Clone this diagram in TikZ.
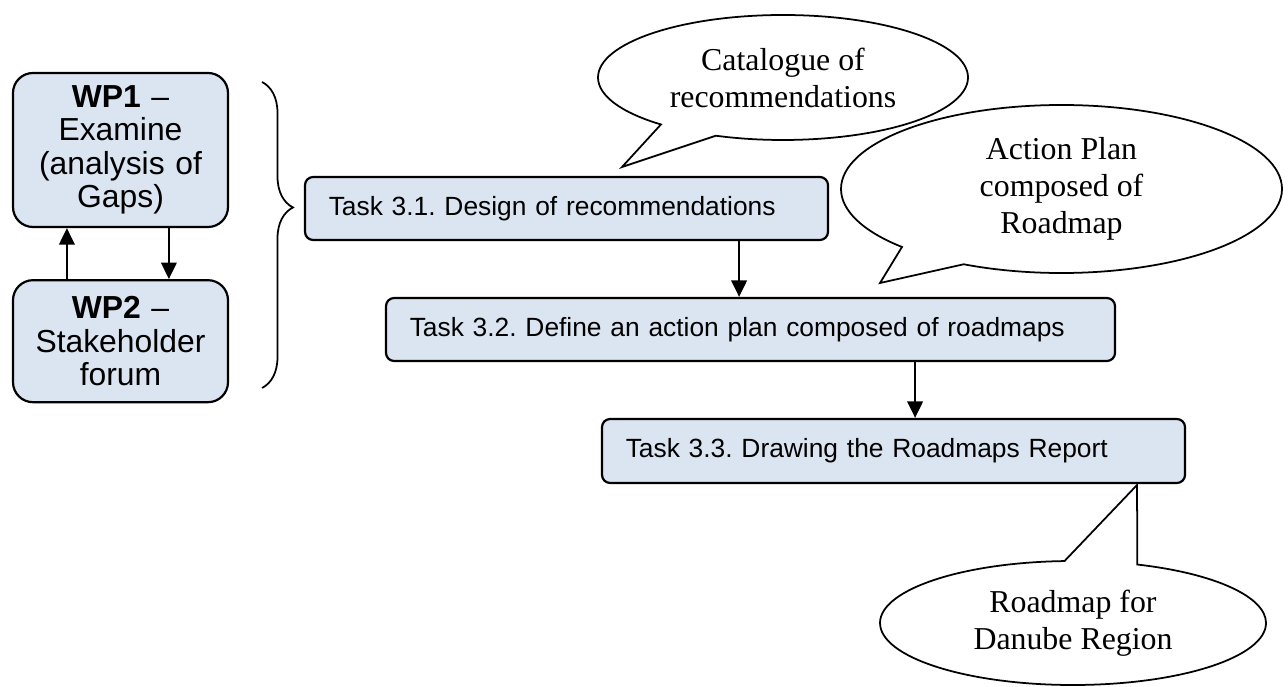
\documentclass[tikz,border=0pt]{standalone}
\usepackage{fontspec}
\setmainfont{Liberation Sans}
\newfontfamily\bubblefont{Liberation Serif}
\usetikzlibrary{positioning}
\usetikzlibrary{arrows.meta}
\usetikzlibrary{calc}
\usetikzlibrary{shapes.callouts}
\usetikzlibrary{decorations.pathreplacing}
\definecolor{boxblue}{HTML}{DBE5F1}
\frenchspacing

\begin{document}
\begin{tikzpicture}[
	wp/.style={draw, fill=boxblue, line width=1pt, rounded corners=0.32cm, minimum width=3.44cm, text width=3.2cm, align=center, inner sep=0pt, font=\fontsize{14.5}{15.2}\selectfont},
	task/.style={draw, fill=boxblue, line width=1pt, rounded corners=0.13cm, inner xsep=0.38cm, inner ysep=0pt, align=left, font=\fontsize{12}{14}\selectfont},
	bubble/.style={ellipse callout, draw, fill=white, line width=0.8pt, inner sep=0pt, align=center, font=\bubblefont\fontsize{14.5}{16.8}\selectfont},
	flow/.style={-{Triangle[length=7.5pt,width=7pt]}, line width=1.1pt},
]
	\useasboundingbox (0,0) rectangle (20.608,-10.992);

	\node[wp, minimum height=2.464cm] (wp1) at (1.928,-2.4) {\textbf{WP1} –\\Examine\\(analysis of\\Gaps)};
	\node[wp, minimum height=1.952cm, below=0.816cm of wp1] (wp2) {\textbf{WP2} –\\Stakeholder\\forum};

	\draw[flow] ($(wp2.north west)+(0.88,0)$) coordinate (up) -- (up |- wp1.south);
	\draw[flow] ($(wp1.south west)+(2.512,0)$) coordinate (down) -- (down |- wp2.north);

	\draw[line width=0.8pt, decorate, decoration={brace, amplitude=0.496cm, aspect=0.41}] (4.192,-1.312) -- (4.192,-6.208);

	\node[task, text width=7.608cm, minimum height=1.008cm] (t31) at (9.064,-3.336) {Task 3.1. Design of recommendations};
	\node[task, text width=10.904cm, minimum height=1.008cm] (t32) at (12.008,-5.272) {Task 3.2. Define an action plan composed of roadmaps};
	\node[task, text width=8.568cm, minimum height=1.024cm] (t33) at (14.296,-7.216) {Task 3.3. Drawing the Roadmaps Report};

	\draw[flow] ($(t31.south east)+(-1.44,0)$) coordinate (d1) -- (d1 |- t32.north);
	\draw[flow] ($(t32.south east)+(-3.216,0)$) coordinate (d2) -- (d2 |- t33.north);

	\coordinate (cattip) at (9.952,-2.672);
	\coordinate (plantip) at (14.08,-4.528);
	\coordinate (maptip) at (18.192,-7.76);

	\node[bubble, minimum width=5.92cm, minimum height=2cm, callout pointer arc=20, callout absolute pointer={(cattip)}] (catalogue) at (12.528,-1.24) {Catalogue of\\recommendations};
	\node[bubble, minimum width=7.056cm, minimum height=2.688cm, callout pointer arc=20, callout absolute pointer={(plantip)}] (plan) at (16.984,-3.024) {Action Plan\\composed of\\Roadmap};
	\node[bubble, minimum width=6.176cm, minimum height=1.984cm, callout pointer arc=22, callout absolute pointer={(maptip)}] (map) at (17.168,-9.968) {Roadmap for\\Danube Region};
\end{tikzpicture}
\end{document}
